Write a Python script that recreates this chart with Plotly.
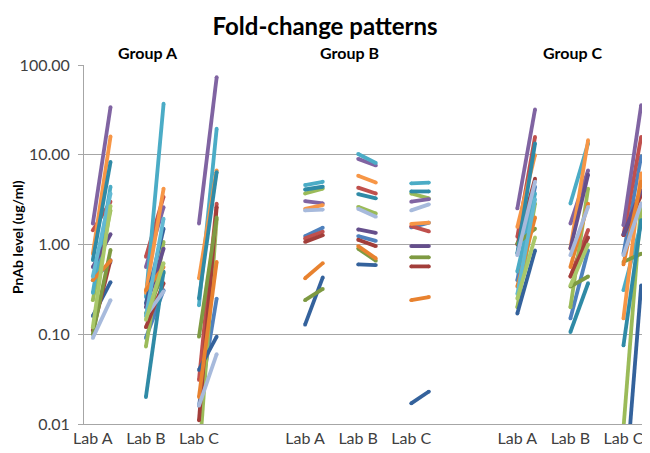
import plotly.graph_objects as go

# ---------------- data ----------------
groups = ["Group A", "Group B", "Group C"]
labs = ["Lab A", "Lab B", "Lab C"]
y_tick_vals = [0.01, 0.1, 1, 10, 100]
y_tick_text = ["0.01", "0.10", "1.00", "10.00", "100.00"]

# index i of every list = subject slot i (slot i always drawn with colour i)
ga_lab_a_pre = [0.40, 1.44, 0.24, 1.71, 0.29, 0.79, 0.16, 0.11, 0.10, 0.56, 0.67, 0.40, 0.091, 0.44, 0.12]
ga_lab_a_post = [0.64, 3.0, 2.4, 34.0, 4.4, 16.0, 0.38, 0.67, 0.87, 1.3, 8.3, 0.66, 0.24, 3.7, 2.7]
ga_lab_b_pre = [0.091, 0.73, 0.073, 0.56, 0.26, 0.29, 0.22, 0.12, 0.17, 0.20, 0.02, 0.31, 0.16, 0.16, 0.145]
ga_lab_b_post = [0.31, 3.4, 1.07, 2.6, 37.0, 4.2, 1.5, 0.37, 0.48, 0.9, 0.5, 0.56, 0.30, 1.94, 0.62]
ga_lab_c_pre = [0.016, 0.031, 0.004, 1.71, 0.21, 0.42, 0.04, 0.011, 0.094, None, 0.25, 0.02, 0.016, None, None]
ga_lab_c_post = [0.25, 2.85, 1.9, 73.0, 19.5, 6.7, 0.094, 2.6, 2.0, None, 6.4, 0.64, 0.06, None, None]

gb_lab_a_pre = [1.24, 1.17, 3.7, 3.05, 4.6, 2.5, 0.128, 1.07, 0.24, None, 4.1, 0.42, 2.4, None, None]
gb_lab_a_post = [1.54, 1.39, 4.2, 2.87, 5.0, 2.75, 0.43, 1.27, 0.32, None, 4.4, 0.62, 2.45, None, None]
gb_lab_b_pre = [1.24, 4.3, 2.63, 9.0, 10.2, 5.85, 0.60, 1.13, 0.90, 1.47, 3.65, 0.96, 2.5, None, None]
gb_lab_b_post = [1.1, 3.7, 2.22, 7.6, 8.1, 4.9, 0.59, 0.96, 0.66, 1.35, 3.27, 0.70, 2.04, None, None]
gb_lab_c_pre = [1.55, 1.6, 3.7, 3.0, 4.8, 1.7, 0.017, 0.57, 0.72, 0.96, 3.9, 0.24, 2.4, None, None]
gb_lab_c_post = [1.75, 1.4, 3.27, 3.2, 4.9, 1.75, 0.023, 0.57, 0.72, 0.96, 3.9, 0.26, 2.8, None, None]

gc_lab_a_pre = [0.40, 1.22, 0.20, 2.52, 0.50, 1.57, 0.17, 1.0, 1.03, None, 0.8, 0.34, 0.76, 0.28, 0.25]
gc_lab_a_post = [4.4, 15.8, 2.86, 32.0, 3.7, 9.9, 0.86, 5.4, 1.5, None, 13.4, 2.0, 5.0, 3.2, 1.2]
gc_lab_b_pre = [0.15, 0.44, 0.20, 1.71, 2.86, 0.9, None, 0.44, 0.34, 0.9, 0.106, 0.56, 0.76, None, 0.35]
gc_lab_b_post = [0.86, 1.45, 4.2, 6.7, 13.4, 14.5, None, 1.2, 0.44, 6.0, 0.37, 2.86, 2.63, None, 1.0]
gc_lab_c_pre = [0.79, 1.27, 0.009, 1.64, 0.31, 0.15, 0.0011, 1.27, 0.64, 1.3, 0.075, 0.6, 0.76, None, None]
gc_lab_c_post = [9.6, 15.8, 2.86, 35.6, 1.7, 6.2, 0.35, 3.55, 0.79, 4.0, 1.87, 5.0, 2.86, None, None]

columns = [
    (ga_lab_a_pre, ga_lab_a_post), (ga_lab_b_pre, ga_lab_b_post), (ga_lab_c_pre, ga_lab_c_post),
    (gb_lab_a_pre, gb_lab_a_post), (gb_lab_b_pre, gb_lab_b_post), (gb_lab_c_pre, gb_lab_c_post),
    (gc_lab_a_pre, gc_lab_a_post), (gc_lab_b_pre, gc_lab_b_post), (gc_lab_c_pre, gc_lab_c_post),
]

# ---------------- style ----------------
palette = ["#4F81BD", "#C0504D", "#9BBB59", "#8064A2", "#4BACC6", "#F79646",
           "#34629C", "#A23E3A", "#7E9A42", "#654F8C", "#2F8AA6", "#E8822F",
           "#A7BADC", "#62B9D3", "#A9C86A"]
FONT = "Lato, 'Open Sans', sans-serif"
AXIS_GREY = "#A6A6A6"

# category positions: 3 slots per lab (pre, post, blank), 3 blank slots between groups
def pre_pos(g, l):
    return g * 12 + l * 3

fig = go.Figure()
for i, col in enumerate(palette):
    xs, ys = [], []
    for c, (pre, post) in enumerate(columns):
        g, l = divmod(c, 3)
        if pre[i] is None or post[i] is None:
            continue
        p = pre_pos(g, l)
        xs += [p, p + 1, None]
        ys += [pre[i], post[i], None]
    fig.add_trace(go.Scatter(x=xs, y=ys, mode="lines+markers",
                             line=dict(color=col, width=3.8),
                             marker=dict(color=col, size=3.8),
                             showlegend=False, hoverinfo="skip"))

tick_pos = [pre_pos(g, l) for g in range(3) for l in range(3)]
tick_txt = labs * 3

# page body has an 8px margin: figure is sized so the plot lands where the reference has it
fig.update_layout(
    width=642, height=445,
    margin=dict(l=76, r=0, t=57, b=29),
    paper_bgcolor="white", plot_bgcolor="white",
    font=dict(family=FONT, color="#404040", size=16),
    xaxis=dict(range=[-0.5, 31.5], tickvals=tick_pos, ticktext=tick_txt,
               showgrid=False, zeroline=False, showline=True, linecolor=AXIS_GREY,
               ticks="", tickfont=dict(size=16, color="#404040")),
    yaxis=dict(type="log", range=[-2, 2], tickvals=y_tick_vals, ticktext=y_tick_text,
               showgrid=True, gridcolor=AXIS_GREY, gridwidth=1,
               showline=True, linecolor=AXIS_GREY, zeroline=False,
               ticks="outside", ticklen=5, tickcolor=AXIS_GREY, ticklabelstandoff=5,
               tickfont=dict(size=16, color="#404040")),
    title=dict(text="<b>Fold-change patterns</b>", x=0.4938, xref="container",
               y=0.958, yref="container", yanchor="middle", xanchor="center",
               font=dict(size=24, color="black", family=FONT)),
)

group_x = [3.1, 14.5, 27.1]
for gx, name in zip(group_x, groups):
    fig.add_annotation(x=gx, y=1.036, xref="x", yref="paper", text=f"<b>{name}</b>",
                       showarrow=False, font=dict(size=16, color="black", family=FONT),
                       xanchor="center", yanchor="middle")

fig.add_annotation(x=-0.117, y=0.52, xref="paper", yref="paper",
                   text="<b>PnAb level (ug/ml)</b>", textangle=-90, showarrow=False,
                   font=dict(size=14, color="black", family=FONT),
                   xanchor="center", yanchor="middle")

fig.write_html("out.html")
